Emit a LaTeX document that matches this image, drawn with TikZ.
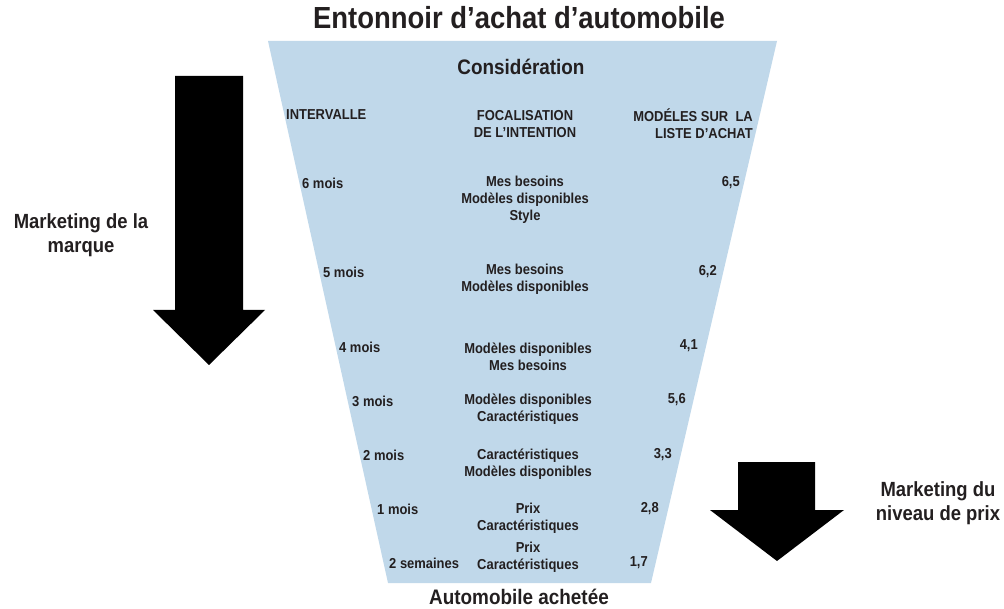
\documentclass[tikz,border=0pt]{standalone}
\usepackage{fontspec}
\setmainfont{Liberation Sans}[FakeStretch=0.9]
\usetikzlibrary{positioning}
\definecolor{funnelblue}{RGB}{192,216,234}
\definecolor{ink}{RGB}{35,31,32}
\tikzstyle{lbl} = [font=\bfseries\fontsize{14.4}{17}\selectfont, inner sep=0pt, text=ink, align=center]
\tikzstyle{side} = [font=\bfseries\fontsize{20.5}{24}\selectfont, inner sep=0pt, text=ink, align=center]
\tikzstyle{big} = [font=\bfseries\fontsize{21}{24}\selectfont, inner sep=0pt, text=ink]

\begin{document}
\begin{tikzpicture}[x=1pt,y=-1pt]
			\useasboundingbox (0,0) rectangle (1004,609);
			\fill[funnelblue] (268,41) -- (777,41) -- (651,583) -- (388,583) -- cycle;
			\fill[black] (175,76) -- (243,76) -- (243,310) -- (265,310) -- (209,365) -- (153,310) -- (175,310) -- cycle;
			\fill[black] (738,462) -- (815,462) -- (815,510) -- (844,510) -- (777,561) -- (710,510) -- (738,510) -- cycle;
			
			\node[big, font=\bfseries\fontsize{30.5}{34}\selectfont] (title) at (519,18) {Entonnoir d’achat d’automobile};
			\node[big] (consid) at (521,67) {Considération};
			\node[big] (achat) at (519,597) {Automobile achetée};
			
			\node[lbl, anchor=west] (interv) at (286,115) {INTERVALLE};
			\node[lbl] (focus) at (525,124.5) {FOCALISATION\\DE L’INTENTION};
			\node[lbl, anchor=east, align=right] (modeles) at (753,123.5) {MODÉLES SUR\ \ LA\\LISTE D’ACHAT};
			
			\node[lbl, anchor=west] (m6) at (302,183) {6 mois};
			\node[lbl] (f6) at (525,200) {Mes besoins\\Modèles disponibles\\Style};
			\node[lbl, anchor=east] (v6) at (740,183) {6,5};
			
			\node[lbl, anchor=west] (m5) at (323,272) {5 mois};
			\node[lbl] (f5) at (525,279) {Mes besoins\\Modèles disponibles};
			\node[lbl, anchor=east] (v5) at (717,272) {6,2};
			
			\node[lbl, anchor=west] (m4) at (339,347) {4 mois};
			\node[lbl] (f4) at (528,356.5) {Modèles disponibles\\Mes besoins};
			\node[lbl, anchor=east] (v4) at (698,346) {4,1};
			
			\node[lbl, anchor=west] (m3) at (352,401) {3 mois};
			\node[lbl] (f3) at (528,409) {Modèles disponibles\\Caractéristiques};
			\node[lbl, anchor=east] (v3) at (686,400) {5,6};
			
			\node[lbl, anchor=west] (m2) at (363,455) {2 mois};
			\node[lbl] (f2) at (528,464.5) {Caractéristiques\\Modèles disponibles};
			\node[lbl, anchor=east] (v2) at (672,455) {3,3};
			
			\node[lbl, anchor=west] (m1) at (377,509) {1 mois};
			\node[lbl] (f1) at (528,518) {Prix\\Caractéristiques};
			\node[lbl, anchor=east] (v1) at (659,509) {2,8};
			
			\node[lbl, anchor=west] (m0) at (389,563) {2 semaines};
			\node[lbl] (f0) at (528,557.5) {Prix\\Caractéristiques};
			\node[lbl, anchor=east] (v0) at (648,563) {1,7};
			
			\node[side] (brand) at (81,235) {Marketing de la\\marque};
			\node[side] (price) at (938,503) {Marketing du\\niveau de prix};
			
		\end{tikzpicture}
\end{document}
